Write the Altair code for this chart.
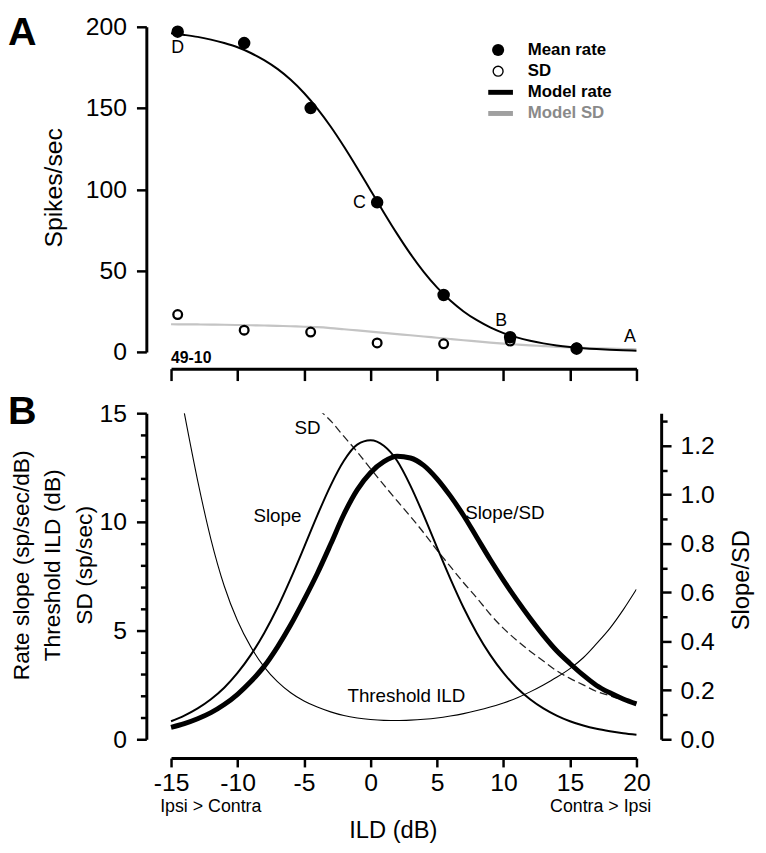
import altair as alt
import pandas as pd

FONT = "Liberation Sans"

# ---------------- data: panel A ----------------
ILD_PTS = [-14.5, -9.5, -4.5, 0.5, 5.5, 10.5, 15.5]
MEAN_RATE = [197, 190, 150, 92, 35, 9, 2]
SD_PTS = [23, 13.4, 12.2, 5.5, 5.0, 6.7, 2.5]

ILD_CURVE = [-15, -14, -13, -12, -11, -10, -9, -8, -7, -6, -5, -4, -3, -2, -1, 0,
             1, 2, 3, 4, 5, 6, 7, 8, 9, 10, 11, 12, 13, 14, 15, 16, 17, 18, 19, 20]
MODEL_RATE = [196.0, 195.0, 193.8, 192.1, 190.0, 187.4, 183.9, 179.5, 174.1, 167.4,
              159.3, 149.7, 138.7, 126.4, 113.2, 99.5, 85.8, 72.6, 60.3, 49.3,
              39.7, 31.6, 24.9, 19.5, 15.1, 11.6, 8.95, 6.86, 5.24, 3.99,
              3.04, 2.31, 1.75, 1.33, 1.01, 0.77]
MODEL_SD = [17.0, 16.95, 16.9, 16.8, 16.7, 16.55, 16.4, 16.25, 16.05, 15.8,
            15.5, 15.2, 14.65, 13.93, 13.22, 12.45, 11.7, 10.97, 10.25, 9.5,
            8.7, 7.95, 7.2, 6.5, 5.75, 5.1, 4.55, 4.05, 3.6, 3.15,
            2.8, 2.5, 2.2, 2.0, 1.8, 1.65]

# ---------------- data: panel B ----------------
SLOPE = [0.83, 1.09, 1.42, 1.84, 2.37, 3.05, 3.88, 4.88, 6.05, 7.39,
         8.83, 10.3, 11.67, 12.81, 13.55, 13.75, 13.5, 12.81, 11.67, 10.3,
         8.83, 7.39, 6.05, 4.88, 3.88, 3.05, 2.37, 1.84, 1.42, 1.09,
         0.83, 0.63, 0.48, 0.37, 0.28, 0.21]
SLOPE_SD = [0.049, 0.064, 0.084, 0.109, 0.142, 0.184, 0.236, 0.298, 0.377, 0.468,
            0.570, 0.678, 0.797, 0.92, 1.02, 1.09, 1.135, 1.157, 1.15, 1.12,
            1.065, 0.995, 0.915, 0.825, 0.735, 0.65, 0.57, 0.495, 0.425, 0.362,
            0.31, 0.262, 0.22, 0.19, 0.165, 0.145]
THRESH_ILD_X = [-14, -13, -12, -11, -10, -9, -8, -7, -6, -5, -4, -3, -2, -1, 0,
                1, 2, 3, 4, 5, 6, 7, 8, 9, 10, 11, 12, 13, 14, 15, 16, 17, 18, 19, 20]
THRESH_ILD = [15.0, 11.9, 9.2, 7.05, 5.45, 4.25, 3.33, 2.65, 2.14, 1.76,
              1.48, 1.26, 1.09, 0.98, 0.91, 0.87, 0.86, 0.88, 0.92, 0.98,
              1.07, 1.18, 1.32, 1.48, 1.67, 1.9, 2.18, 2.5, 2.85, 3.25,
              3.75, 4.4, 5.1, 5.95, 6.9]

# ticks / labels
ILD_TICKS = [-15, -10, -5, 0, 5, 10, 15, 20]
RATE_TICKS = [0, 50, 100, 150, 200]
LEFT_B_TICKS = [0, 1, 2, 3, 4, 5, 6, 7, 8, 9, 10, 11, 12, 13, 14, 15]
RIGHT_B_TICKS = [0.0, 0.1, 0.2, 0.3, 0.4, 0.5, 0.6, 0.7, 0.8, 0.9, 1.0, 1.1, 1.2, 1.3]

LEGEND_LABELS = ["Mean rate", "SD", "Model rate", "Model SD"]
LEGEND_TEXT_COLORS = ["black", "black", "black", "#8a8a8a"]
LEGEND_LINE_COLORS = ["black", "black", "black", "#a0a0a0"]

POINT_LETTERS = ["D", "C", "B", "A"]
LETTER_ILD = [-14.5, 0.5, 10.5, 19.5]
LETTER_VAL = [197, 92, 9, 0.9]
LETTER_DX = [0, -18, -9, 0]
LETTER_DY = [17, 1, -16, -14]

CURVE_LABELS = ["SD", "Slope", "Slope/SD", "Threshold ILD"]
CURVE_LABEL_ILD = [-4.73, -7.0, 10.1, 2.7]
CURVE_LABEL_VAL = [14.3, 10.25, 10.4, 2.0]

W = 471
HA = 329
HB = 330

df_curve = pd.DataFrame({"ild": ILD_CURVE, "rate": MODEL_RATE, "sd": MODEL_SD,
                         "slope": SLOPE, "ratio": SLOPE_SD})
df_pts = pd.DataFrame({"ild": ILD_PTS, "rate": MEAN_RATE, "sd": SD_PTS})
df_thr = pd.DataFrame({"ild": THRESH_ILD_X, "thr": THRESH_ILD})

sx = alt.Scale(domain=[-15, 20], nice=False, zero=False)

# ---------------- panel A ----------------
axA = alt.Axis(values=ILD_TICKS, labels=False, title=None, offset=17, tickSize=12)
syA = alt.Scale(domain=[0, 200], nice=False)
ayA = alt.Axis(values=RATE_TICKS, title=None, offset=25, tickSize=10, labelPadding=10)


def xA():
    return alt.X("ild:Q", scale=sx, axis=axA)


def yA(field):
    return alt.Y(f"{field}:Q", scale=syA, axis=ayA)


curveA = alt.Chart(df_curve)
sd_line = curveA.mark_line(color="#c4c4c4", strokeWidth=2.2, interpolate="monotone").encode(
    x=xA(), y=yA("sd"))
rate_line = curveA.mark_line(color="black", strokeWidth=2, interpolate="monotone").encode(
    x=xA(), y=yA("rate"))
ptsA = alt.Chart(df_pts)
sd_pts = ptsA.mark_point(shape="circle", filled=True, fill="white", stroke="black",
                         strokeWidth=2.3, size=78, opacity=1).encode(x=xA(), y=yA("sd"))
mean_pts = ptsA.mark_circle(color="black", size=160, opacity=1).encode(x=xA(), y=yA("rate"))

layersA = [sd_line, rate_line, sd_pts, mean_pts]

for i, letter in enumerate(POINT_LETTERS):
    d = pd.DataFrame({"ild": [LETTER_ILD[i]], "val": [LETTER_VAL[i]], "t": [letter]})
    layersA.append(alt.Chart(d).mark_text(fontSize=18, font=FONT, color="black",
                                          dx=LETTER_DX[i], dy=LETTER_DY[i]).encode(
        x=xA(), y=yA("val"), text="t:N"))

d_id = pd.DataFrame({"ild": [-15], "val": [0], "t": ["49-10"]})
layersA.append(alt.Chart(d_id).mark_text(fontSize=16, fontWeight="bold", font=FONT, align="left",
                                         baseline="middle", dy=6, color="black").encode(
    x=xA(), y=yA("val"), text="t:N"))

# legend (panel A)
df_leg = pd.DataFrame({"label": LEGEND_LABELS, "row": [0, 1, 2, 3],
                       "tcolor": LEGEND_TEXT_COLORS, "lcolor": LEGEND_LINE_COLORS})
leg = alt.Chart(df_leg).transform_calculate(py="23.5 + 21.4 * datum.row")
leg_text = leg.mark_text(align="left", baseline="middle", fontSize=17, fontWeight="bold",
                         font=FONT).encode(
    x=alt.value(361), y=alt.Y("py:Q", scale=None),
    text="label:N", color=alt.Color("tcolor:N", scale=None))
leg_fill = leg.transform_filter("datum.row == 0").mark_circle(size=150, opacity=1, color="black").encode(
    x=alt.value(331), y=alt.Y("py:Q", scale=None))
leg_open = leg.transform_filter("datum.row == 1").mark_point(
    shape="circle", filled=True, fill="white", stroke="black", strokeWidth=1.4, size=100, opacity=1).encode(
    x=alt.value(331), y=alt.Y("py:Q", scale=None))
leg_lines = leg.transform_filter("datum.row >= 2").mark_rule(strokeWidth=5).encode(
    x=alt.value(321), x2=alt.value(346), y=alt.Y("py:Q", scale=None),
    color=alt.Color("lcolor:N", scale=None))
layersA += [leg_text, leg_fill, leg_open, leg_lines]

layersA.append(alt.Chart(pd.DataFrame({"t": ["A"]})).mark_text(
    fontSize=40, fontWeight="bold", font=FONT, align="left", baseline="top", color="black").encode(
    x=alt.value(-165), y=alt.value(-14), text="t:N"))
layersA.append(alt.Chart(pd.DataFrame({"t": ["Spikes/sec"]})).mark_text(
    fontSize=25, font=FONT, angle=270, align="center", baseline="middle", color="black").encode(
    x=alt.value(-118), y=alt.value(163), text="t:N"))

panelA = alt.layer(*layersA).properties(width=W, height=HA)

# ---------------- panel B ----------------
axB = alt.Axis(values=ILD_TICKS, title=None, offset=19, tickSize=9, labelPadding=4,
               labelExpr="datum.value < 0 ? '-' + (-datum.value) : '' + datum.value")
syL = alt.Scale(domain=[0, 15], nice=False)
ayL = alt.Axis(values=LEFT_B_TICKS, title=None, offset=25, labelPadding=10,
               tickSize={"condition": {"test": "datum.value % 5 === 0", "value": 10}, "value": 6},
               labelExpr="datum.value % 5 === 0 ? datum.label : ''")
syR = alt.Scale(domain=[0, 1.3333], nice=False)
ayR = alt.Axis(values=RIGHT_B_TICKS, title=None, orient="right", offset=25, labelPadding=9,
               tickSize={"condition": {"test": "abs(datum.value*5 - round(datum.value*5)) < 0.001",
                                       "value": 10}, "value": 6},
               labelExpr="abs(datum.value*5 - round(datum.value*5)) < 0.001 ? format(datum.value, '.1f') : ''")


def xB():
    return alt.X("ild:Q", scale=sx, axis=axB)


def yL(field):
    return alt.Y(f"{field}:Q", scale=syL, axis=ayL)


curveB = alt.Chart(df_curve)
slope_line = curveB.mark_line(color="black", strokeWidth=2, interpolate="monotone").encode(
    x=xB(), y=yL("slope"))
thr_line = alt.Chart(df_thr).mark_line(color="black", strokeWidth=1.1, interpolate="monotone",
                                       clip=True).encode(x=xB(), y=yL("thr"))
sd_dash = curveB.mark_line(color="#222222", strokeWidth=1.3, strokeDash=[8, 4],
                           interpolate="monotone", clip=True).encode(x=xB(), y=yL("sd"))
layersL = [thr_line, sd_dash, slope_line]

for i, lab in enumerate(CURVE_LABELS):
    d = pd.DataFrame({"ild": [CURVE_LABEL_ILD[i]], "val": [CURVE_LABEL_VAL[i]], "t": [lab]})
    layersL.append(alt.Chart(d).mark_text(fontSize=19, font=FONT, color="black",
                                          align="center", baseline="middle").encode(
        x=xB(), y=yL("val"), text="t:N"))

layersL.append(alt.Chart(pd.DataFrame({"t": ["B"]})).mark_text(
    fontSize=40, fontWeight="bold", font=FONT, align="left", baseline="top", color="black").encode(
    x=alt.value(-165), y=alt.value(-21), text="t:N"))

LEFT_TITLES = ["Rate slope (sp/sec/dB)", "Threshold ILD (dB)", "SD (sp/sec)"]
LEFT_TITLE_X = [-151, -119, -87]
for t, xp in zip(LEFT_TITLES, LEFT_TITLE_X):
    layersL.append(alt.Chart(pd.DataFrame({"t": [t]})).mark_text(
        fontSize=23, font=FONT, angle=270, align="center", baseline="middle", color="black").encode(
        x=alt.value(xp), y=alt.value(154), text="t:N"))

layersL.append(alt.Chart(pd.DataFrame({"t": ["Slope/SD"]})).mark_text(
    fontSize=24, font=FONT, angle=270, align="center", baseline="middle", color="black").encode(
    x=alt.value(578), y=alt.value(169), text="t:N"))
layersL.append(alt.Chart(pd.DataFrame({"t": ["Ipsi > Contra"]})).mark_text(
    fontSize=18, font=FONT, align="left", baseline="middle", color="black").encode(
    x=alt.value(-11), y=alt.value(399), text="t:N"))
layersL.append(alt.Chart(pd.DataFrame({"t": ["Contra > Ipsi"]})).mark_text(
    fontSize=18, font=FONT, align="right", baseline="middle", color="black").encode(
    x=alt.value(486), y=alt.value(399), text="t:N"))
layersL.append(alt.Chart(pd.DataFrame({"t": ["ILD (dB)"]})).mark_text(
    fontSize=24, font=FONT, align="center", baseline="middle", color="black").encode(
    x=alt.value(225), y=alt.value(423), text="t:N"))

left_group = alt.layer(*layersL)
ratio_line = curveB.mark_line(color="black", strokeWidth=5, interpolate="monotone").encode(
    x=xB(), y=alt.Y("ratio:Q", scale=syR, axis=ayR))

panelB = alt.layer(left_group, ratio_line).resolve_scale(y="independent").properties(
    width=W, height=HB)

chart = alt.vconcat(panelA, panelB, spacing=62, bounds="flush").properties(
    padding={"left": 0, "top": 0, "right": 4, "bottom": 0}
).configure_view(stroke=None).configure_axis(
    labelFont=FONT, labelFontSize=25, labelColor="black", domainColor="black",
    tickColor="black", domainWidth=3, tickWidth=2.5, grid=False,
    labelFlush=False, labelOverlap=False
).configure_text(font=FONT)

chart.save("out.html", embed_options={"renderer": "svg", "actions": False})
